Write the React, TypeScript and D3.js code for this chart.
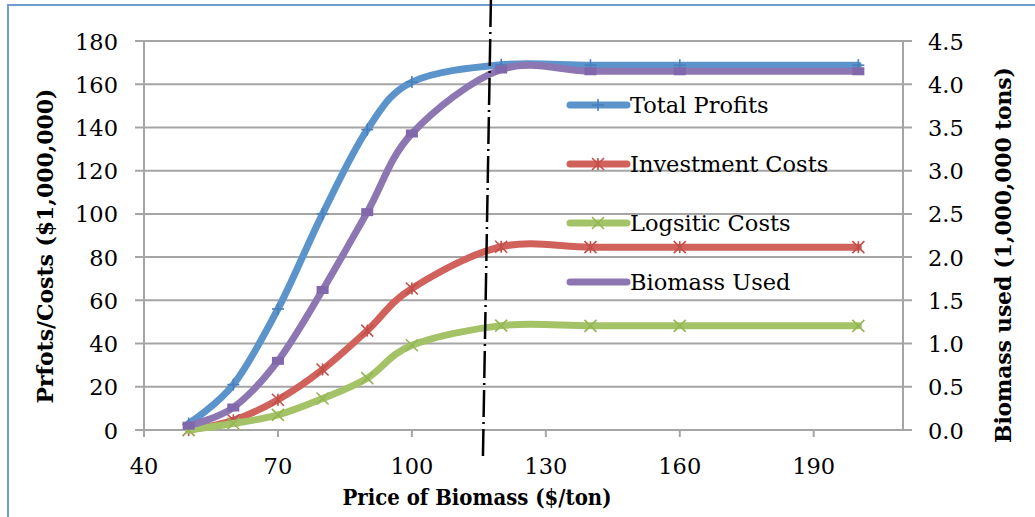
import React from "react";
import * as d3 from "d3";

// Price of biomass ($/ton) at which each scenario was solved
const prices = [50, 60, 70, 80, 90, 100, 120, 140, 160, 200];

// Left axis series ($1,000,000)
const totalProfits = [3, 21, 56, 100, 139, 161, 169, 168.8, 168.8, 168.8];
const investmentCosts = [0, 4.5, 14, 28, 46, 65.5, 84.8, 84.6, 84.6, 84.6];
const logisticCosts = [0, 3, 7, 14.6, 24, 39.2, 48.3, 48.2, 48.2, 48.2];

// Right axis series (1,000,000 tons)
const biomassUsed = [0.05, 0.26, 0.8, 1.62, 2.52, 3.43, 4.17, 4.15, 4.15, 4.15];

const xTicks = [40, 70, 100, 130, 160, 190];
const leftTicks = [0, 20, 40, 60, 80, 100, 120, 140, 160, 180];
const rightTicks = [0, 0.5, 1, 1.5, 2, 2.5, 3, 3.5, 4, 4.5];

const legendLabels = ["Total Profits", "Investment Costs", "Logsitic Costs", "Biomass Used"];

// Break-even price marker (dash-dot line), drawn in price units
const markerTopPrice = 117.7;
const markerBottomPrice = 115.9;

const W = 1035;
const H = 517;
const FONT = "'DejaVu Serif', serif";

const x = d3.scaleLinear().domain([40, 210]).range([144, 903]);
const yL = d3.scaleLinear().domain([0, 180]).range([430, 41]);
const yR = d3.scaleLinear().domain([0, 4.5]).range([430, 41]);

const GRID = "#A5A5A5";

type Marker = "plus" | "star" | "cross" | "dash";

const series = [
  { name: legendLabels[0], values: totalProfits, axis: "left", color: "#5B93CB", mark: "#4A7FBE", marker: "plus" as Marker },
  { name: legendLabels[1], values: investmentCosts, axis: "left", color: "#D0625B", mark: "#C24F49", marker: "star" as Marker },
  { name: legendLabels[2], values: logisticCosts, axis: "left", color: "#A4C367", mark: "#93B653", marker: "cross" as Marker },
  { name: legendLabels[3], values: biomassUsed, axis: "right", color: "#8D77B3", mark: "#8068AA", marker: "dash" as Marker },
];

function MarkerShape({ kind, cx, cy, color }: { kind: Marker; cx: number; cy: number; color: string }) {
  const s = 6;
  const sw = 1.6;
  if (kind === "plus") {
    return (
      <g stroke={color} strokeWidth={sw}>
        <line x1={cx - s} y1={cy} x2={cx + s} y2={cy} />
        <line x1={cx} y1={cy - s} x2={cx} y2={cy + s} />
      </g>
    );
  }
  if (kind === "cross") {
    return (
      <g stroke={color} strokeWidth={sw}>
        <line x1={cx - s} y1={cy - s} x2={cx + s} y2={cy + s} />
        <line x1={cx - s} y1={cy + s} x2={cx + s} y2={cy - s} />
      </g>
    );
  }
  if (kind === "star") {
    return (
      <g stroke={color} strokeWidth={sw}>
        <line x1={cx - s} y1={cy - s} x2={cx + s} y2={cy + s} />
        <line x1={cx - s} y1={cy + s} x2={cx + s} y2={cy - s} />
        <line x1={cx} y1={cy - s} x2={cx} y2={cy + s} />
      </g>
    );
  }
  return <rect x={cx - 6} y={cy - 4} width={12} height={8} fill={color} />;
}

export default function App() {
  const line = (yScale: d3.ScaleLinear<number, number>) =>
    d3
      .line<[number, number]>()
      .x((d) => x(d[0]))
      .y((d) => yScale(d[1]))
      .curve(d3.curveCatmullRom.alpha(0));

  const legendY = [105, 164, 223, 282];

  return (
    <svg
      width={W}
      height={H}
      style={{ position: "absolute", left: 0, top: 0, background: "#fff" }}
      fontFamily={FONT}
    >
      {/* chart frame */}
      <rect x={8} y={5} width={W + 20} height={H + 20} fill="#fff" stroke="#6F9CD1" strokeWidth={2} />

      {/* horizontal gridlines with ticks on both sides */}
      {leftTicks.map((t) => (
        <line key={"g" + t} x1={135} x2={912} y1={yL(t)} y2={yL(t)} stroke={GRID} strokeWidth={2} />
      ))}

      {/* axes */}
      <line x1={x(40)} x2={x(40)} y1={yL(180)} y2={437} stroke={GRID} strokeWidth={2} />
      <line x1={x(210)} x2={x(210)} y1={yL(180)} y2={yL(0)} stroke={GRID} strokeWidth={2} />
      {xTicks.map((t) => (
        <line key={"xt" + t} x1={x(t)} x2={x(t)} y1={430} y2={437} stroke={GRID} strokeWidth={2} />
      ))}

      {/* tick labels */}
      {xTicks.map((t) => (
        <text key={"xl" + t} x={x(t)} y={474} textAnchor="middle" fontSize={22.5} fill="#000">
          {t}
        </text>
      ))}
      {leftTicks.map((t) => (
        <text key={"ll" + t} x={118} y={yL(t) + 8.5} textAnchor="end" fontSize={22.5} fill="#000">
          {t}
        </text>
      ))}
      {rightTicks.map((t) => (
        <text key={"rl" + t} x={928} y={yR(t) + 8.5} textAnchor="start" fontSize={22.5} fill="#000">
          {d3.format(".1f")(t)}
        </text>
      ))}

      {/* axis titles */}
      <text
        transform={`translate(53,246) rotate(-90)`}
        textAnchor="middle"
        fontSize={22}
        fontWeight="bold"
        fill="#000"
        textLength={315}
      >
        Prfots/Costs ($1,000,000)
      </text>
      <text
        transform={`translate(1011,255) rotate(-90)`}
        textAnchor="middle"
        fontSize={22}
        fontWeight="bold"
        fill="#000"
        textLength={376}
      >
        Biomass used (1,000,000 tons)
      </text>
      <text
        x={477}
        y={505}
        textAnchor="middle"
        fontSize={22}
        fontWeight="bold"
        fill="#000"
        textLength={269}
        lengthAdjust="spacingAndGlyphs"
      >
        Price of Biomass ($/ton)
      </text>

      {/* series */}
      {series.map((s) => {
        const ys = s.axis === "left" ? yL : yR;
        const pts = prices.map((p, i) => [p, s.values[i]] as [number, number]);
        return (
          <g key={s.name}>
            <path d={line(ys)(pts) || ""} fill="none" stroke={s.color} strokeWidth={7} strokeLinecap="round" strokeLinejoin="round" />
            {pts.map((d, i) => (
              <MarkerShape key={i} kind={s.marker} cx={x(d[0])} cy={ys(d[1])} color={s.mark} />
            ))}
          </g>
        );
      })}

      {/* legend */}
      {series.map((s, i) => (
        <g key={"lg" + s.name}>
          <line x1={570} x2={627} y1={legendY[i]} y2={legendY[i]} stroke={s.color} strokeWidth={7} strokeLinecap="round" />
          {s.marker !== "dash" && <MarkerShape kind={s.marker} cx={598} cy={legendY[i]} color={s.mark} />}
          <text x={630} y={legendY[i] + 8} fontSize={22.5} fill="#000">
            {s.name}
          </text>
        </g>
      ))}

      {/* break-even price marker */}
      <line
        x1={x(markerTopPrice)}
        y1={0}
        x2={x(markerBottomPrice)}
        y2={460}
        stroke="#000"
        strokeWidth={2.5}
        strokeDasharray="27 5 2 5"
      />
    </svg>
  );
}
